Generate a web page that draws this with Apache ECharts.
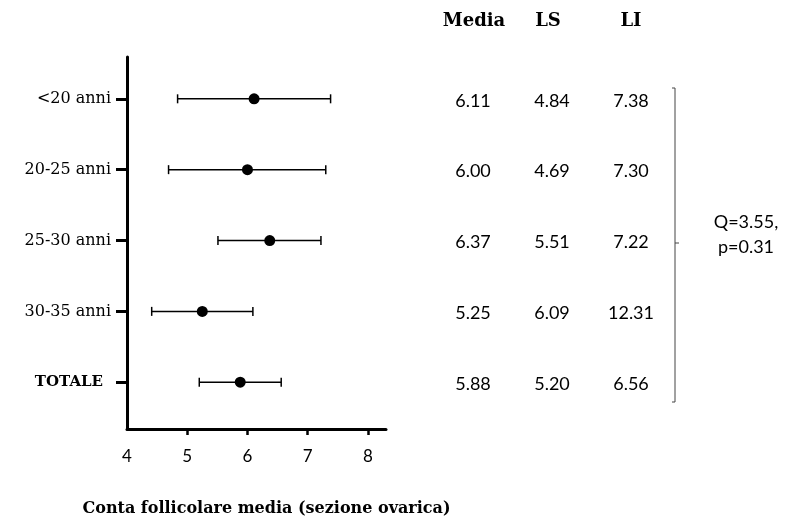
<!DOCTYPE html>
<html>
<head>
<meta charset="utf-8">
<script src="https://cdn.jsdelivr.net/npm/echarts@6/dist/echarts.min.js"></script>
<style>
  html, body { margin: 0; padding: 0; background: #ffffff; }
  #chart { width: 794px; height: 522px; }
</style>
</head>
<body>
<div id="chart"></div>
<script>
// Age groups, top to bottom
const categories = ['<20 anni', '20-25 anni', '25-30 anni', '30-35 anni', 'TOTALE'];
// Mean follicle count and interval bounds drawn as error bars
const meanValues = [6.11, 6.00, 6.37, 5.25, 5.88];
const lowerValues = [4.84, 4.69, 5.51, 4.41, 5.20];
const upperValues = [7.38, 7.30, 7.22, 6.09, 6.56];
// Values listed in the side table
const tableMedia = [6.11, 6.00, 6.37, 5.25, 5.88];
const tableLS = [4.84, 4.69, 5.51, 6.09, 5.20];
const tableLI = [7.38, 7.30, 7.22, 12.31, 6.56];
const tableHeaders = ['Media', 'LS', 'LI'];
// x axis tick labels
const xTicks = [4, 5, 6, 7, 8];
const statText = ['Q=3.55,', 'p=0.31'];

const serif = 'DejaVu Serif';
const sans = 'Lato';
const n = categories.length;
const rowPos = categories.map((_, i) => n - 1 - i);   // top row highest
const yMin = -0.66, yMax = 4.59;

const errData = categories.map((_, i) => [lowerValues[i], upperValues[i], rowPos[i]]);
const pointData = categories.map((_, i) => [meanValues[i], rowPos[i]]);

const tableData = [];
categories.forEach((_, i) => {
  [tableMedia, tableLS, tableLI].forEach((arr, c) => {
    tableData.push([c, rowPos[i], arr[i].toFixed(2)]);
  });
});

const chart = echarts.init(document.getElementById('chart'), null, { renderer: 'canvas' });

const option = {
  animation: false,
  backgroundColor: '#ffffff',
  grid: [
    { left: 127, right: 408, top: 57, bottom: 93 },
    { left: 433.5, width: 237, top: 57, bottom: 93 }
  ],
  xAxis: [
    {
      type: 'value', gridIndex: 0, min: 4, max: 8.3,
      splitLine: { show: false },
      axisLine: { show: true, onZero: false, lineStyle: { color: '#000', width: 3 } },
      axisTick: { show: true, length: 6, lineStyle: { color: '#000', width: 2.5 }, customValues: xTicks.slice(1) },
      axisLabel: { color: '#000', fontFamily: sans, fontSize: 17, margin: 19, customValues: xTicks },
      name: 'Conta follicolare media (sezione ovarica)',
      nameLocation: 'middle', nameGap: 72,
      nameTextStyle: { fontFamily: serif, fontWeight: 'bold', fontSize: 16, color: '#000', padding: [0, 0, 0, 20] }
    },
    { type: 'value', gridIndex: 1, min: -0.5, max: 2.5, show: false }
  ],
  yAxis: [
    {
      type: 'value', gridIndex: 0, min: yMin, max: yMax,
      splitLine: { show: false },
      axisLine: { show: true, onZero: false, lineStyle: { color: '#000', width: 3 } },
      axisTick: { show: true, length: 11, lineStyle: { color: '#000', width: 3 }, customValues: rowPos },
      axisLabel: {
        customValues: rowPos, margin: 16, color: '#000', fontFamily: serif, fontSize: 16,
        formatter: function (v) {
          const idx = n - 1 - Math.round(v);
          const name = categories[idx];
          return idx === n - 1 ? '{b|' + name + '}' : name;
        },
        rich: { b: { fontFamily: serif, fontWeight: 'bold', fontSize: 15, color: '#000', padding: [0, 8, 0, 0] } }
      }
    },
    { type: 'value', gridIndex: 1, min: yMin, max: yMax, show: false }
  ],
  series: [
    {
      type: 'custom', xAxisIndex: 0, yAxisIndex: 0,
      data: errData,
      renderItem: function (params, api) {
        const lo = api.coord([api.value(0), api.value(2)]);
        const hi = api.coord([api.value(1), api.value(2)]);
        const cap = 4.5;
        const style = { stroke: '#000', lineWidth: 1.5 };
        return {
          type: 'group',
          children: [
            { type: 'line', shape: { x1: lo[0], y1: lo[1], x2: hi[0], y2: hi[1] }, style: style },
            { type: 'line', shape: { x1: lo[0], y1: lo[1] - cap, x2: lo[0], y2: lo[1] + cap }, style: style },
            { type: 'line', shape: { x1: hi[0], y1: hi[1] - cap, x2: hi[0], y2: hi[1] + cap }, style: style }
          ]
        };
      },
      z: 2
    },
    {
      type: 'scatter', xAxisIndex: 0, yAxisIndex: 0,
      data: pointData, symbol: 'circle', symbolSize: 11,
      itemStyle: { color: '#000', opacity: 1 }, z: 3
    },
    {
      type: 'custom', xAxisIndex: 1, yAxisIndex: 1,
      data: tableData,
      renderItem: function (params, api) {
        const p = api.coord([api.value(0), api.value(1)]);
        return {
          type: 'text',
          x: p[0], y: p[1] + 2,
          style: {
            text: tableData[params.dataIndex][2],
            fontFamily: sans, fontSize: 18, fill: '#000',
            align: 'center', verticalAlign: 'middle'
          }
        };
      }
    }
  ],
  graphic: [
    ...tableHeaders.map((h, c) => ({
      type: 'text', x: [474, 548, 631][c], y: 21,
      style: { text: h, fontFamily: serif, fontWeight: 'bold', fontSize: 18, fill: '#000', align: 'center', verticalAlign: 'middle' }
    })),
    {
      type: 'polyline',
      shape: { points: [[672, 88], [675, 88], [675, 402], [672, 402]] },
      style: { stroke: '#444', lineWidth: 1, fill: null }
    },
    {
      type: 'line',
      shape: { x1: 675, y1: 243, x2: 679, y2: 243 },
      style: { stroke: '#444', lineWidth: 1 }
    },
    {
      type: 'text', x: 746, y: 235,
      style: {
        text: statText.join('\n'), fontFamily: sans, fontSize: 18, lineHeight: 25,
        fill: '#000', align: 'center', verticalAlign: 'middle'
      }
    }
  ]
};

chart.setOption(option);
</script>
</body>
</html>
